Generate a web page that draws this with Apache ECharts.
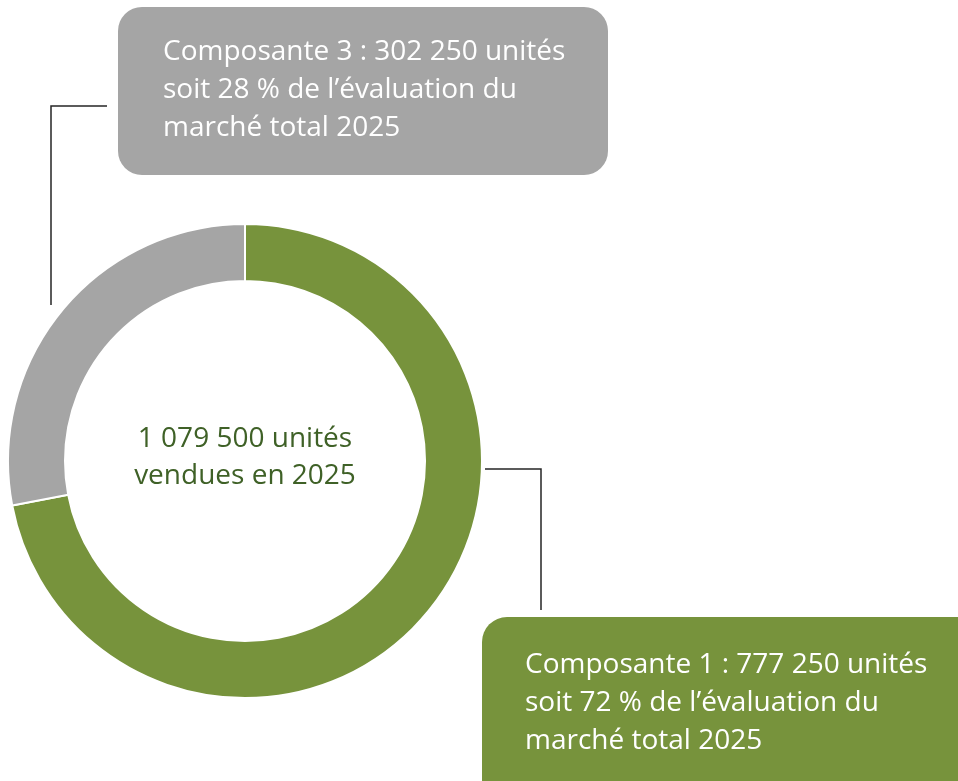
<!DOCTYPE html>
<html>
<head>
<meta charset="utf-8">
<script src="https://cdn.jsdelivr.net/npm/echarts@6/dist/echarts.min.js"></script>
<style>
  html, body { margin: 0; padding: 0; background: #fff; }
  #chart { width: 958px; height: 781px; }
</style>
</head>
<body>
<div id="chart"></div>
<script>
// parts of the 2025 market
const categories = ['Composante 1', 'Composante 3'];
const values = [777250, 302250];
const colors = ['#77933c', '#a5a5a5'];
const centerLines = ['1 079 500 unités', 'vendues en 2025'];
const greenLines = ['Composante 1 : 777 250 unités', 'soit 72 % de l’évaluation du', 'marché total 2025'];
const grayLines = ['Composante 3 : 302 250 unités', 'soit 28 % de l’évaluation du', 'marché total 2025'];

const font = '"Open Sans", Lato, sans-serif';
const chart = echarts.init(document.getElementById('chart'));

chart.setOption({
    animation: false,
    color: colors,
    series: [{
        type: 'pie',
        center: [245, 461],
        radius: [180, 237],
        startAngle: 90,
        clockwise: true,
        label: { show: false },
        labelLine: { show: false },
        itemStyle: { borderColor: '#fff', borderWidth: 2 },
        data: categories.map((c, i) => ({ name: c, value: values[i] }))
    }],
    graphic: [
        // gray callout
        {
            type: 'polyline',
            shape: { points: [[107, 106], [51, 106], [51, 305]] },
            style: { stroke: '#262626', lineWidth: 1.5, fill: null }
        },
        {
            type: 'rect',
            shape: { x: 118, y: 7, width: 490, height: 168, r: 24 },
            style: { fill: colors[1] }
        },
        {
            type: 'text',
            x: 163, y: 33,
            style: {
                text: grayLines.join('\n'),
                fill: '#fff', font: '28px ' + font, lineHeight: 38,
                verticalAlign: 'top'
            }
        },
        // green callout
        {
            type: 'polyline',
            shape: { points: [[485, 469], [541, 469], [541, 610]] },
            style: { stroke: '#262626', lineWidth: 1.5, fill: null }
        },
        {
            type: 'rect',
            shape: { x: 482, y: 617, width: 520, height: 220, r: 25 },
            style: { fill: colors[0] }
        },
        {
            type: 'text',
            x: 525, y: 646,
            style: {
                text: greenLines.join('\n'),
                fill: '#fff', font: '28px ' + font, lineHeight: 38,
                verticalAlign: 'top'
            }
        },
        // center
        {
            type: 'text',
            x: 245, y: 421,
            style: {
                text: centerLines.join('\n'),
                fill: '#3f6127', font: '28px ' + font, lineHeight: 37,
                align: 'center', verticalAlign: 'top'
            }
        }
    ]
});
</script>
</body>
</html>
